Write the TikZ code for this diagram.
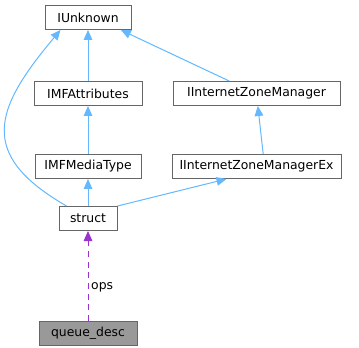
\documentclass[tikz,border=0pt]{standalone}
\usepackage{fontspec}
\setmainfont{DejaVu Sans}
\usepackage{tikz}
\usetikzlibrary{arrows.meta,positioning}
\usepackage{xcolor}
\definecolor{cEdge}{HTML}{63B8FF}
\definecolor{cUse}{HTML}{9A32CD}
\definecolor{cBorder}{HTML}{666666}
\definecolor{cMain}{HTML}{999999}
\tikzset{
  classbox/.style={rectangle,draw=cBorder,fill=white,line width=0.75pt,
                   minimum height=18pt,inner xsep=2pt,
                   font=\fontsize{9.3}{11}\selectfont},
  mainbox/.style={classbox,fill=cMain},
  inharr/.style={->,>={Triangle[length=7.5pt,width=6.5pt]},line width=0.75pt,color=cEdge},
  usearr/.style={->,>={Triangle[length=7.5pt,width=6.5pt]},line width=0.75pt,color=cUse,
                 dash pattern=on 4.5pt off 3.5pt}
}
\begin{document}
\begin{tikzpicture}[x=0.75pt,y=0.75pt,node distance=36pt and 22.5pt]
  \useasboundingbox (0,0) rectangle (359,-348);

  \node[classbox,minimum width=64.5pt] (IUnknown) at (88,-17.5) {IUnknown};

  % left column
  \node[classbox,minimum width=81pt, below=38.25pt of IUnknown] (IMFAttributes) {IMFAttributes};
  \node[classbox,minimum width=79.5pt, below=of IMFAttributes] (IMFMediaType) {IMFMediaType};
  \node[classbox,minimum width=43.5pt, below=20.25pt of IMFMediaType] (struct) {struct};
  \node[mainbox,minimum width=73.5pt, below=67.5pt of struct] (queue) {queue\_desc};

  % right column
  \node[classbox,minimum width=125.25pt, right=of IMFAttributes] (IZoneMgr) {IInternetZoneManager};
  \node[classbox,minimum width=126.75pt, below=of IZoneMgr] (IZoneMgrEx) {IInternetZoneManagerEx};

  \draw[inharr] (IMFAttributes) -- (IUnknown);
  \draw[inharr] (IMFMediaType) -- (IMFAttributes);
  \draw[inharr] (struct) -- (IMFMediaType);
  \draw[inharr] ([xshift=-20.5pt]IZoneMgr.north) -- ([xshift=-8pt]IUnknown.south east);
  \draw[inharr] ([xshift=5pt]IZoneMgrEx.north) -- ([xshift=1pt]IZoneMgr.south);
  \draw[inharr] (struct.north east) -- ([xshift=-22.5pt]IZoneMgrEx.south);
  \draw[inharr] ([xshift=6pt]struct.north west)
      to[out=150,in=-130,looseness=1.5] ([xshift=12pt]IUnknown.south west);
  \draw[usearr] (queue) -- (struct)
      node[pos=0.37,right,inner sep=2pt,text=black,font=\fontsize{9.3}{11}\selectfont] (opslbl) {ops};

\end{tikzpicture}
\end{document}
